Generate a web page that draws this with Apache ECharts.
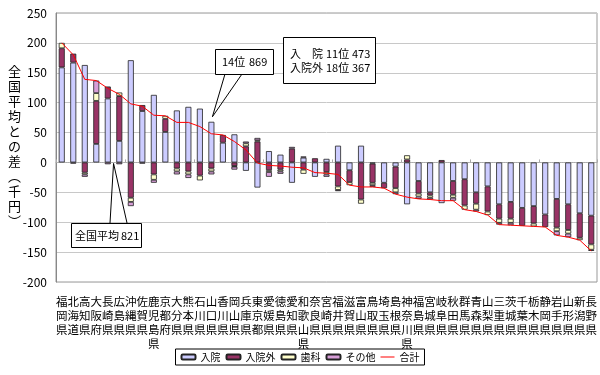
<!DOCTYPE html>
<html>
<head>
<meta charset="utf-8">
<script src="https://cdn.jsdelivr.net/npm/echarts@6/dist/echarts.min.js"></script>
<style>
  html, body { margin: 0; padding: 0; background: #fff; }
  #chart { width: 600px; height: 375px; }
</style>
</head>
<body>
<div id="chart"></div>
<script>
// 都道府県（合計の多い順）
const prefectures = ["福岡県","北海道","高知県","大阪府","長崎県","広島県","沖縄県","佐賀県","鹿児島県","京都府",
  "大分県","熊本県","石川県","山口県","香川県","岡山県","兵庫県","東京都","愛媛県","徳島県",
  "愛知県","和歌山県","奈良県","宮崎県","福井県","滋賀県","富山県","鳥取県","埼玉県","島根県",
  "神奈川県","福島県","宮城県","岐阜県","秋田県","群馬県","青森県","山梨県","三重県","茨城県",
  "千葉県","栃木県","静岡県","岩手県","山形県","新潟県","長野県"];

// 全国平均との差（千円）
const inpatient  = [159,167,163,31,107,36,171,86,113,51, 87,93,90,68,33,47,-14,-42,19,13,
  -34,8,-24,6,28,-13,28,-2,-34,-7, -70,-31,-50,-68,-31,-28,-50,-40,-70,-66, -76,-73,-87,-61,-70,-85,-89];
const outpatient = [32,15,-17,72,20,75,-59,10,-20,22, -10,-15,-22,-10,13,-6,27,35,-13,-12,
  23,-12,7,-16,-40,-20,-62,-32,-9,-36, 5,-21,-5,4,-23,-44,-19,-42,-24,-28, -30,-29,-21,-48,-43,-41,-48];
const dental     = [9,0,-3,13,0,6,-7,0,-9,5, -5,-5,-8,-5,0,-1,5,2,-3,-3,
  0,-7,0,-4,-6,-5,-7,-4,0,-7, 7,-5,-4,0,-5,-7,-10,-6,-7,-7, 0,-5,0,-6,-6,-4,-9];
const other      = [0,-2,-4,21,-3,-3,-7,-2,-5,0, -5,-6,0,-5,0,-5,3,4,-8,-4,
  3,2,0,-4,-2,0,0,-3,0,-3, 0,-4,-3,0,-5,0,-3,0,-3,-4, 0,0,0,-7,-6,0,-2];
const total      = [200,180,139,137,124,114,98,94,79,78, 67,67,60,48,46,35,21,-1,-5,-6,
  -8,-9,-17,-18,-20,-38,-41,-41,-43,-53, -58,-61,-62,-64,-64,-79,-82,-88,-104,-105, -106,-107,-108,-122,-125,-130,-148];

const yMin = -200, yMax = 250, yStep = 50;

const font = '"Noto Sans CJK JP", "Noto Sans", sans-serif';
const chart = echarts.init(document.getElementById("chart"));

const barSeries = (name, values, color) => ({
  name: name,
  type: "bar",
  stack: "diff",
  barWidth: 6,
  data: values.map(v => (v === 0 ? null : v)),
  itemStyle: { color: color, borderColor: "#222", borderWidth: 0.8 },
});

chart.setOption({
  animation: false,
  textStyle: { fontFamily: font },
  grid: { left: 56, right: 3, top: 13, bottom: 93, show: true, borderColor: "#999", borderWidth: 1 },
  xAxis: [
    {
      type: "category",
      data: prefectures,
      axisLine: { onZero: false, show: false },
      axisTick: { show: false },
      axisLabel: {
        interval: 0,
        margin: 13,
        color: "#000",
        fontSize: 11.5,
        lineHeight: 14,
        verticalAlign: "top",
        formatter: v => v.split("").join("\n"),
      },
    },
    {
      // 0 の位置の軸線（目盛り付き）
      type: "category",
      data: prefectures,
      position: "bottom",
      axisLine: { onZero: true, lineStyle: { color: "#aaa", type: "dotted" } },
      axisTick: { show: true, inside: true, length: 3, lineStyle: { color: "#aaa" } },
      axisLabel: { show: false },
    },
  ],
  yAxis: {
    type: "value",
    min: yMin,
    max: yMax,
    interval: yStep,
    axisLine: { show: true, lineStyle: { color: "#888" } },
    axisTick: { show: false },
    axisLabel: { color: "#000", fontSize: 12, margin: 9 },
    splitLine: { lineStyle: { color: "#c8c8c8" } },
  },
  legend: {
    left: "center",
    top: 349,
    itemWidth: 14,
    itemHeight: 5,
    itemGap: 5,
    padding: [3, 5],
    symbolKeepAspect: false,
    borderColor: "#000",
    borderWidth: 1,
    textStyle: { color: "#000", fontSize: 10 },
    data: [
      "入院", "入院外", "歯科", "その他",
      { name: "合計", icon: "path://M0,0 M0,4 L20,4 L20,6 L0,6 Z M20,10" },
    ],
  },
  series: [
    barSeries("入院", inpatient, "#ccccff"),
    barSeries("入院外", outpatient, "#993366"),
    barSeries("歯科", dental, "#ffffcc"),
    barSeries("その他", other, "#d89ed8"),
    {
      name: "合計",
      type: "line",
      data: total,
      symbol: "none",
      lineStyle: { color: "#ff0000", width: 1 },
      itemStyle: { color: "#ff0000" },
      z: 5,
    },
  ],
});

// 吹き出し類
const posTop = i => [inpatient, outpatient, dental, other].reduce((s, a) => s + (a[i] > 0 ? a[i] : 0), 0);
const p14 = chart.convertToPixel({ xAxisIndex: 0, yAxisIndex: 0 }, [13, posTop(13)]);
const pa = chart.convertToPixel({ xAxisIndex: 0, yAxisIndex: 0 }, [4, 0]);
const pb = chart.convertToPixel({ xAxisIndex: 0, yAxisIndex: 0 }, [5, 0]);
const avgX = (pa[0] + pb[0]) / 2;

const txt = (x, y, s) => ({
  type: "text", x: x, y: y, z: 20,
  style: { text: s, font: "11px " + font, fill: "#000", verticalAlign: "middle" },
});
const yName = "全国平均との差︵千円︶".split("").join("\n");

chart.setOption({
  graphic: [
    { type: "polyline", z: 19, shape: { points: [[110, 223], [avgX, pa[1] + 1], [127, 223]] }, style: { stroke: "#000", fill: null, lineWidth: 1 } },
    { type: "rect", z: 19, shape: { x: 71.5, y: 223.5, width: 70, height: 24 }, style: { fill: "#fff", stroke: "#000", lineWidth: 1 } },
    txt(75, 236, "全国平均"),
    txt(121, 236, "821"),

    { type: "polyline", z: 19, shape: { points: [[225, 74], [p14[0] + 1, p14[1] - 5], [242, 74]] }, style: { stroke: "#000", fill: null, lineWidth: 1 } },
    { type: "rect", z: 19, shape: { x: 215.5, y: 49.5, width: 58, height: 25 }, style: { fill: "#fff", stroke: "#000", lineWidth: 1 } },
    txt(222, 62, "14位"),
    txt(249, 62, "869"),

    { type: "rect", z: 19, shape: { x: 283.5, y: 37.5, width: 92, height: 46 }, style: { fill: "#fff", stroke: "#000", lineWidth: 1 } },
    txt(290, 54, "入　院"),
    txt(326, 54, "11位"),
    txt(352, 54, "473"),
    txt(290, 68, "入院外"),
    txt(326, 68, "18位"),
    txt(352, 68, "367"),

    {
      type: "text", x: 8, y: 64, z: 20,
      style: { text: yName, font: "13px " + font, fill: "#000", lineHeight: 15, verticalAlign: "top" },
    },
  ],
});
</script>
</body>
</html>
